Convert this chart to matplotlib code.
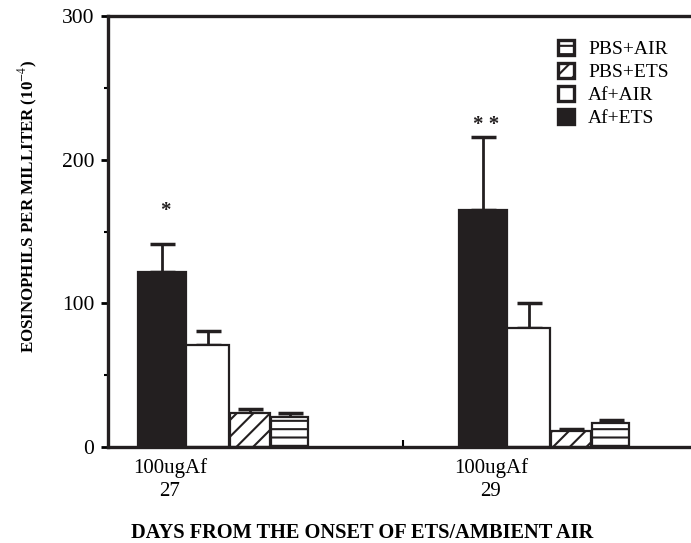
import matplotlib
matplotlib.use("Agg")
import matplotlib.pyplot as plt
from matplotlib.patches import Patch
import numpy as np

plt.rcParams['font.family'] = ['Liberation Serif', 'DejaVu Serif']
plt.rcParams['hatch.linewidth'] = 1.5
plt.rcParams['mathtext.fontset'] = 'stix'

groups = ["100ugAf\n27", "100ugAf\n29"]
series = ["Af+ETS", "Af+AIR", "PBS+ETS", "PBS+AIR"]
af_ets = [122, 165]
af_ets_err = [19, 51]
af_air = [71, 83]
af_air_err = [10, 17]
pbs_ets = [24, 11]
pbs_ets_err = [2.5, 1.5]
pbs_air = [21, 17]
pbs_air_err = [2.5, 2]
stars = ["*", "* *"]
star_y = [164, 224]

values = [af_ets, af_air, pbs_ets, pbs_air]
errors = [af_ets_err, af_air_err, pbs_ets_err, pbs_air_err]
offsets = [-0.10, 0.05, 0.187, 0.315]
widths = [0.15, 0.135, 0.125, 0.115]
faces = ["#231f20", "white", "white", "white"]
hatches = [None, None, "//", "--"]

fig = plt.figure(figsize=(6.91, 5.43), dpi=100)
ax = fig.add_axes([108/691, 96/543, 582/691, 431/543])

x = np.arange(len(groups))
for vals, errs, off, w, fc, h in zip(values, errors, offsets, widths, faces, hatches):
    ax.bar(x + off, vals, width=w, align='edge', color=fc, edgecolor='#231f20',
           linewidth=1.6, hatch=h, zorder=2)
    ax.errorbar(x + off + w/2, vals, yerr=[np.zeros(len(vals)), errs], fmt='none',
                ecolor='#231f20', elinewidth=2, capsize=9, capthick=2.5, zorder=1)

for i, s in enumerate(stars):
    ax.text(x[i] + offsets[0] + widths[0]/2 + 0.01, star_y[i], s, ha='center', va='center',
            fontsize=15, fontweight='bold', color='#231f20')

ax.set_xlim(-0.193, 1.620)
ax.set_ylim(0, 300)
ax.set_xticks(x)
ax.set_xticklabels(groups, fontsize=15, linespacing=1.3)
ax.set_xticks([0.726], minor=True)
ax.tick_params(axis='x', which='major', length=0, pad=8)
ax.tick_params(axis='x', which='minor', length=5, width=1.5, direction='in')
ax.set_yticks([0, 100, 200, 300])
ax.set_yticks([50, 150, 250], minor=True)
ax.tick_params(axis='y', which='major', length=5, width=2, labelsize=15.5, direction='out', pad=5)
ax.tick_params(axis='y', which='minor', length=3, width=1.5, direction='out')

for sp in ['left', 'top', 'bottom']:
    ax.spines[sp].set_linewidth(2.4)
    ax.spines[sp].set_color('#231f20')
ax.spines['right'].set_visible(False)

ax.set_ylabel("EOSINOPHILS PER MILLITER (10$^{-4}$)", fontsize=12.2, fontweight='bold')
ax.yaxis.set_label_coords(-0.117, 0.559)
ax.set_xlabel("DAYS FROM THE ONSET OF ETS/AMBIENT AIR", fontsize=14.7, fontweight='bold')
ax.xaxis.set_label_coords((362 - 108) / 582, -(523 - 447) / 431)

legend_order = [3, 2, 1, 0]
handles = [Patch(facecolor=faces[i], edgecolor='#231f20', hatch=hatches[i], linewidth=2.4) for i in legend_order]
labels = [series[i] for i in legend_order]
ax.legend(handles, labels, loc='upper left', bbox_to_anchor=((558 - 108) / 582, 1 - (40 - 16) / 431),
          frameon=False, fontsize=14, handlelength=0.8, handleheight=0.8, handletextpad=0.75,
          labelspacing=0.25, borderpad=0, borderaxespad=0)

fig.savefig("out.png", dpi=100)
